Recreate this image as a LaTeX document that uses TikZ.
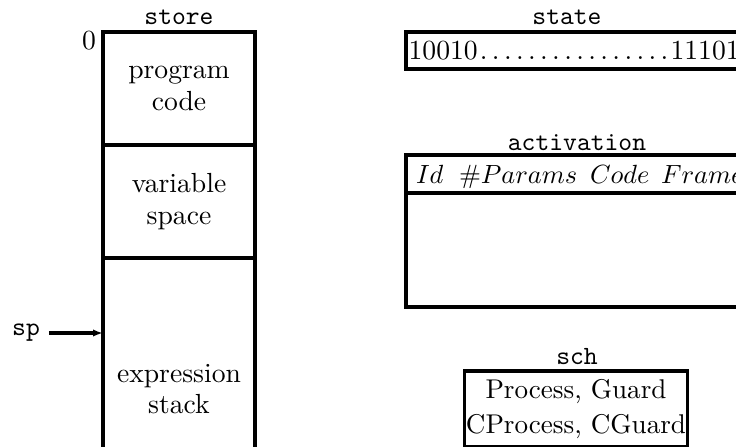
\documentclass[tikz,border=0pt]{standalone}
\usetikzlibrary{arrows.meta}
\begin{document}
\begin{tikzpicture}[x=0.38pt, y=-0.38pt, line width=1.35pt,
  every node/.style={outer sep=0pt, font=\fontsize{10.5}{12}\selectfont},
  cell/.style={draw, rectangle, minimum width=57.76pt, align=center,
    inner sep=0pt},
  lbl/.style={font=\ttfamily, inner sep=0pt},
  frame/.style={draw, rectangle, inner sep=0pt, minimum width=130pt},
  head/.style={anchor=base west, inner sep=0pt, font=\fontsize{9.7}{11}\selectfont},
  ptr/.style={-{Latex[length=3.8pt, width=2.8pt]}, line width=1.3pt},
]
\useasboundingbox (0,0) rectangle (736,446);
\clip (0,0) rectangle (736,446);

% the store: three stacked regions
\node[cell, minimum height=42.94pt] (prog) at (179,88.5) {program\\code};
\node[cell, minimum height=42.94pt, anchor=north] (vars) at (prog.south) {variable\\space};
\node[cell, minimum height=99.56pt, anchor=north] (expr) at (vars.south) {expression\\stack};
\node[lbl] (storelbl) at (179,17) {store};
\node[inner sep=0pt] (zero) at (89,41) {0};

% stack pointer
\node[lbl] (sp) at (26,333) {sp};
\draw[ptr] ([xshift=3.4pt]sp.east) -- (sp.east -| expr.west);

% state register
\node[lbl] (statelbl) at (567,17) {state};
\node[draw, anchor=west, inner xsep=1pt, inner ysep=0pt, minimum height=14.06pt]
  (state) at (406,50.5)
  {10010\hbox to 73.3pt{\cleaders\hbox to 4.58pt{\hss.\hss}\hfill}11101};

% activation table
\node[lbl] (actlbl) at (577,143) {activation};
\node[frame, anchor=north west, minimum height=14.44pt] (acthead) at (406,155) {};
\node[frame, anchor=north west, minimum height=43.32pt] (actbody) at (acthead.south west) {};
\node[head] (hid) at (416,183) {$Id$};
\node[head] (hparams) at (459,183) {$\#Params$};
\node[head] (hcode) at (590,183) {$Code$};
\node[head] (hframe) at (661,183) {$Frame$};

% scheduler
\node[lbl] (schlbl) at (577,357) {sch};
\node[draw, anchor=north, align=center, inner xsep=0.6pt, inner ysep=3.2pt,
  font=\fontsize{10.3}{13.3}\selectfont] (sch) at (576,371)
  {Process, Guard\\CProcess, CGuard};
\end{tikzpicture}
\end{document}
